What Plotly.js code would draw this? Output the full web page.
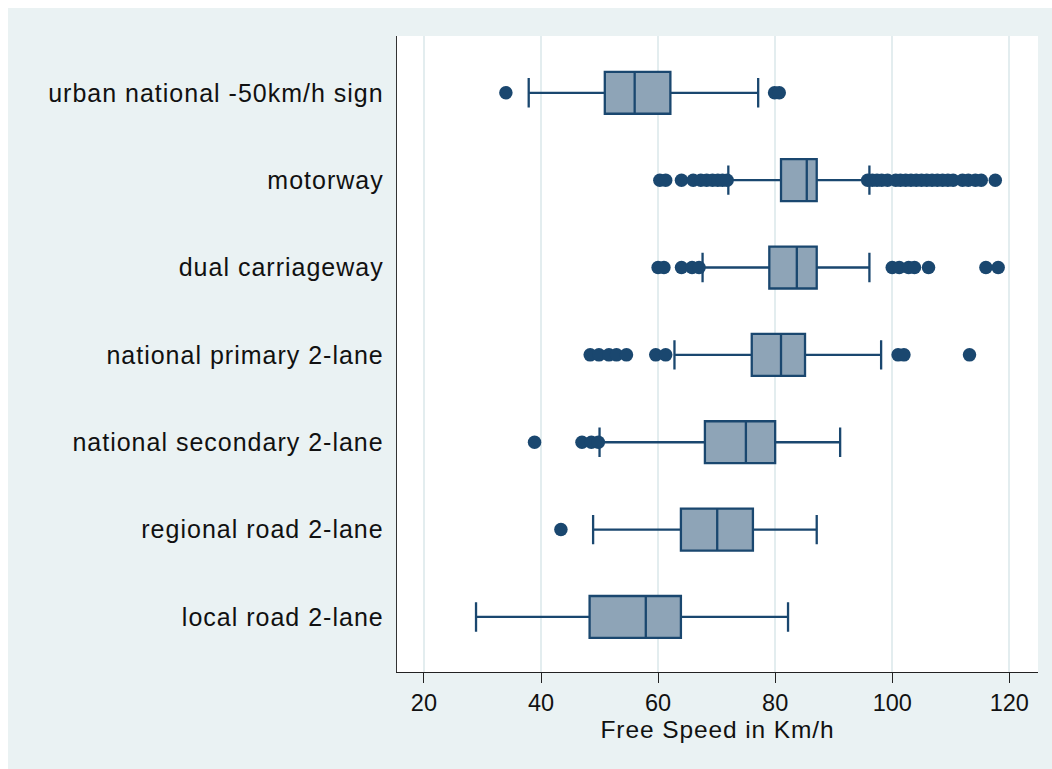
<!DOCTYPE html>
<html>
<head>
<meta charset="utf-8">
<script src="https://cdn.plot.ly/plotly-3.0.1.min.js"></script>
<style>
html,body{margin:0;padding:0;background:#fff;}
#chart{width:1052px;height:769px;}
#chart .ytick text{letter-spacing:1px;}
#chart text.xtitle{letter-spacing:0.9px;}
</style>
</head>
<body>
<div id="chart"></div>
<script>
// Categories (top to bottom as in the picture)
const categories = [
  "urban national -50km/h sign",
  "motorway",
  "dual carriageway",
  "national primary 2-lane",
  "national secondary 2-lane",
  "regional road 2-lane",
  "local road 2-lane"
];
// Box statistics (km/h)
const lowerWhisker = [37.9, 72.0, 67.6, 62.8, 50.0, 48.9, 28.9];
const q1Values     = [50.9, 81.0, 79.0, 76.0, 68.0, 63.9, 48.3];
const medianValues = [56.0, 85.4, 83.7, 81.0, 75.0, 70.1, 57.9];
const q3Values     = [62.1, 87.1, 87.1, 85.1, 80.0, 76.2, 63.9];
const upperWhisker = [77.1, 96.1, 96.1, 98.1, 91.1, 87.1, 82.2];

// Outside values per category
const outUrban = [34.0, 79.9, 80.7];
const outMotorway = [60.3, 61.3, 64.0, 66.0, 67.3, 68.3, 69.3, 70.2, 71.0, 71.8,
  95.8, 96.6, 97.4, 98.2, 99.2, 100.6, 101.4, 102.3, 103.2, 104.1, 105.0, 105.9,
  106.8, 107.7, 108.6, 109.5, 110.4, 112.0, 113.0, 114.2, 115.2, 117.6];
const outDual = [60.0, 61.0, 64.0, 65.8, 67.0, 100.0, 101.2, 102.8, 103.8, 106.2, 116.0, 118.1];
const outPrimary = [48.4, 49.9, 51.6, 52.9, 54.6, 59.6, 61.3, 101.0, 102.0, 113.2];
const outSecondary = [38.9, 47.0, 48.6, 49.8];
const outRegional = [43.4];
const outLocal = [];

const tickValues = [20, 40, 60, 80, 100, 120];

const outliers = [outUrban, outMotorway, outDual, outPrimary, outSecondary, outRegional, outLocal];
const ox = [], oy = [];
outliers.forEach((arr, i) => arr.forEach(v => { ox.push(v); oy.push(categories[i]); }));

const navy = "#1A476F";
const font = "Liberation Sans, Arial, sans-serif";

const traces = [
  {
    type: "box",
    orientation: "h",
    y: categories,
    q1: q1Values,
    median: medianValues,
    q3: q3Values,
    lowerfence: lowerWhisker,
    upperfence: upperWhisker,
    width: 0.48,
    whiskerwidth: 0.7,
    fillcolor: "#8EA4B7",
    line: {color: navy, width: 2.3},
    boxpoints: false,
    hoverinfo: "skip",
    showlegend: false
  },
  {
    type: "scatter",
    mode: "markers",
    x: ox,
    y: oy,
    marker: {color: navy, size: 13.5, line: {width: 0}},
    hoverinfo: "skip",
    showlegend: false
  }
];

const L = 397, R = 1038, T = 36, B = 672;
const pw = R - L, ph = B - T;

const layout = {
  width: 1052, height: 769,
  margin: {l: L, r: 1052 - R, t: T, b: 769 - B, pad: 0},
  paper_bgcolor: "#ffffff",
  plot_bgcolor: "#ffffff",
  font: {family: font, size: 23.5, color: "#111"},
  showlegend: false,
  xaxis: {
    range: [15.4, 124.9],
    tickvals: tickValues,
    ticktext: tickValues.map(String),
    ticks: "outside", ticklen: 10, tickwidth: 1, tickcolor: "#222",
    showgrid: true, gridcolor: "#E3EDEF", gridwidth: 2,
    zeroline: false,
    showline: true, linecolor: "#222", linewidth: 1,
    tickfont: {family: font, size: 23.5, color: "#111"},
    title: {text: "Free Speed in Km/h", font: {family: font, size: 24.5, color: "#111"}, standoff: 2},
    fixedrange: true
  },
  yaxis: {
    type: "category",
    categoryorder: "array",
    categoryarray: categories.slice().reverse(),
    range: [-0.63, 6.65],
    showgrid: false,
    zeroline: false,
    showline: true, linecolor: "#333", linewidth: 1.3,
    ticks: "", ticklabelstandoff: 7,
    tickfont: {family: font, size: 25, color: "#111"},
    fixedrange: true
  },
  shapes: [
    {
      type: "rect", layer: "below",
      xref: "paper", yref: "paper",
      x0: (8 - L) / pw, x1: (1060 - L) / pw,
      y0: (B - 780) / ph, y1: (B - 8) / ph,
      fillcolor: "#EAF2F3", line: {width: 0}
    },
    {
      type: "rect", layer: "below",
      xref: "paper", yref: "paper",
      x0: 0, x1: 1, y0: 0, y1: 1,
      fillcolor: "#ffffff", line: {width: 0}
    }
  ]
};

Plotly.newPlot("chart", traces, layout, {displayModeBar: false, staticPlot: true});
</script>
</body>
</html>
